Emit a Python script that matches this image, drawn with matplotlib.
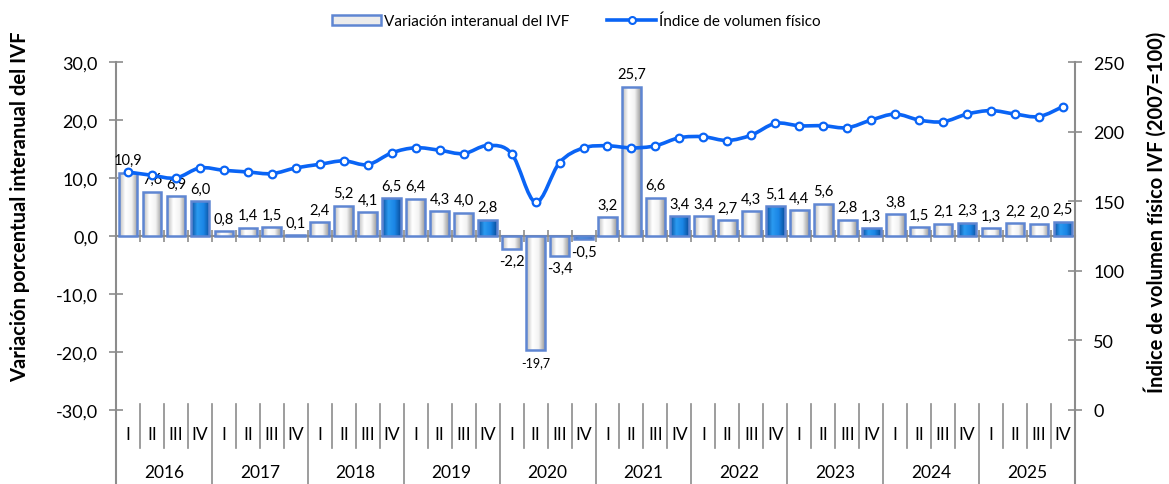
import numpy as np
import matplotlib
matplotlib.use('Agg')
import matplotlib.pyplot as plt
from matplotlib.path import Path
from matplotlib.patches import PathPatch, Patch
from matplotlib.lines import Line2D
from matplotlib.colors import LinearSegmentedColormap
import matplotlib.transforms as mtransforms

plt.rcParams['font.family'] = ['Lato', 'DejaVu Sans']

years = ['2016', '2017', '2018', '2019', '2020', '2021', '2022', '2023', '2024', '2025']
quarters = ['I', 'II', 'III', 'IV']

# variacion interanual del IVF (%)
variacion = [10.9, 7.6, 6.9, 6.0,
             0.8, 1.4, 1.5, 0.1,
             2.4, 5.2, 4.1, 6.5,
             6.4, 4.3, 4.0, 2.8,
             -2.2, -19.7, -3.4, -0.5,
             3.2, 25.7, 6.6, 3.4,
             3.4, 2.7, 4.3, 5.1,
             4.4, 5.6, 2.8, 1.3,
             3.8, 1.5, 2.1, 2.3,
             1.3, 2.2, 2.0, 2.5]

# indice de volumen fisico (2007=100)
indice = [171.0, 168.6, 166.7, 173.9,
          172.2, 171.0, 169.8, 173.9,
          176.5, 179.0, 176.3, 184.7,
          188.4, 186.6, 184.2, 190.0,
          184.2, 149.3, 177.7, 188.3,
          189.8, 188.3, 189.8, 195.6,
          196.3, 193.6, 197.5, 205.9,
          204.2, 204.2, 202.8, 208.3,
          212.6, 208.3, 207.1, 212.6,
          215.1, 212.6, 210.8, 218.0]

n = len(variacion)
x = np.arange(n)
gray = '#8c8c8c'
line_blue = '#0a64f5'
edge_blue = '#5f86d2'

fig = plt.figure(figsize=(11.69, 4.85), dpi=100)
ax = fig.add_axes([116 / 1169, 1 - 411 / 485, (1075 - 116) / 1169, 348 / 485])
ax2 = ax.twinx()

ax.set_xlim(-0.5, n - 0.5)
ax.set_ylim(-30, 30)
ax2.set_ylim(0, 250)

white_cm = LinearSegmentedColormap.from_list('w', ['#b9b9b9', '#ffffff', '#f4f4f4', '#9a9a9a'])
blue_cm = LinearSegmentedColormap.from_list('b', ['#0a4f9e', '#2b9af0', '#1b86e6', '#0a4f9e'])
grad = np.linspace(0, 1, 64).reshape(1, -1)

bars = ax.bar(x, variacion, width=0.78, facecolor='white', edgecolor=edge_blue,
              linewidth=1.8, zorder=3)
for i, b in enumerate(bars):
    cm = blue_cm if i % 4 == 3 else white_cm
    x0 = b.get_x()
    y0, y1 = sorted([0, variacion[i]])
    im = ax.imshow(grad, extent=[x0, x0 + b.get_width(), y0, y1], aspect='auto',
                   cmap=cm, zorder=2.9, interpolation='bilinear')
    im.set_clip_path(b)
    b.set_facecolor('none')
ax.set_xlim(-0.5, n - 0.5)
ax.set_ylim(-30, 30)

# data labels
for i, v in enumerate(variacion):
    lab = f'{v:.1f}'.replace('.', ',')
    if v >= 0:
        ax.annotate(lab, (x[i], v), xytext=(0, 4), textcoords='offset points',
                    ha='center', va='bottom', fontsize=10.5, zorder=5)
    else:
        ax.annotate(lab, (x[i], v), xytext=(0, -4), textcoords='offset points',
                    ha='center', va='top', fontsize=9 if v < -10 else 10.5, zorder=5)

# smoothed line on secondary axis
verts = [(x[0], indice[0])]
codes = [Path.MOVETO]
for i in range(n - 1):
    a = max(i - 1, 0)
    d = min(i + 2, n - 1)
    c1 = (x[i] + (x[i + 1] - x[a]) / 6, indice[i] + (indice[i + 1] - indice[a]) / 6)
    c2 = (x[i + 1] - (x[d] - x[i]) / 6, indice[i + 1] - (indice[d] - indice[i]) / 6)
    verts += [c1, c2, (x[i + 1], indice[i + 1])]
    codes += [Path.CURVE4] * 3
ax2.add_patch(PathPatch(Path(verts, codes), facecolor='none', edgecolor=line_blue,
                        lw=2.6, capstyle='round', joinstyle='round'))
ax2.plot(x, indice, ls='none', marker='o', ms=5.5, mfc='white', mec=line_blue, mew=1.6)

# axes styling
for a in (ax, ax2):
    for s in a.spines.values():
        s.set_visible(False)
ax.spines['left'].set_visible(True)
ax.spines['left'].set_color(gray)
ax.spines['left'].set_linewidth(1.5)
ax2.spines['right'].set_visible(True)
ax2.spines['right'].set_color(gray)
ax2.spines['right'].set_linewidth(1.5)
ax.spines['bottom'].set_visible(True)
ax.spines['bottom'].set_position(('data', 0))
ax.spines['bottom'].set_color(gray)
ax.spines['bottom'].set_linewidth(1.5)

ax.set_xticks(np.arange(-0.5, n, 1.0))
ax.tick_params(axis='x', direction='inout', length=9, width=1.2, color=gray, labelbottom=False)
ax.set_yticks(np.arange(-30, 31, 10))
ax.set_yticklabels([f'{t:.1f}'.replace('.', ',') for t in np.arange(-30, 31, 10)])
ax.tick_params(axis='y', direction='inout', length=10, width=1.2, color=gray, labelsize=13, pad=8)
ax2.set_yticks(np.arange(0, 251, 50))
ax2.tick_params(axis='y', direction='inout', length=10, width=1.2, color=gray, labelsize=13, pad=8)

# spine extension and multilevel category axis
trans = mtransforms.blended_transform_factory(ax.transData, ax.transAxes)
bot = -74 / 348
ax.plot([-0.5, -0.5], [0, bot], color=gray, lw=1.5, transform=trans, clip_on=False)
ax.plot([n - 0.5, n - 0.5], [0, bot], color=gray, lw=1.5, transform=trans, clip_on=False)
for k in range(1, n):
    xb = k - 0.5
    if k % 4 == 0:
        ax.plot([xb, xb], [6 / 348, bot], color=gray, lw=1.2, transform=trans, clip_on=False)
    else:
        ax.plot([xb, xb], [6 / 348, -38 / 348], color=gray, lw=1.2, transform=trans, clip_on=False)
for i in range(n):
    ax.text(x[i], -24 / 348, quarters[i % 4], transform=trans, ha='center', va='center',
            fontsize=12.5)
for j, yr in enumerate(years):
    ax.text(4 * j + 1.5, -62 / 348, yr, transform=trans, ha='center', va='center', fontsize=12.5)

fig.text(20 / 1169, 1 - 207 / 485, 'Variación porcentual interanual del IVF', rotation=90,
         ha='center', va='center', fontsize=14.5, fontweight='bold')
fig.text(1155 / 1169, 1 - 212 / 485, 'Índice de volumen físico IVF (2007=100)', rotation=90,
         ha='center', va='center', fontsize=14.5, fontweight='bold')

handles = [Patch(facecolor='#ececec', edgecolor=edge_blue, linewidth=1.8),
           Line2D([], [], color=line_blue, lw=2.6, marker='o', ms=5, mfc='white', mec=line_blue, mew=1.5)]
fig.legend(handles, ['Variación interanual del IVF', 'Índice de volumen físico'],
           loc='center', bbox_to_anchor=(0.493, 1 - 22 / 485), ncol=2, frameon=False,
           fontsize=11, handlelength=3.2, handletextpad=0.2, columnspacing=2.5)

fig.savefig('out.png', dpi=100)
